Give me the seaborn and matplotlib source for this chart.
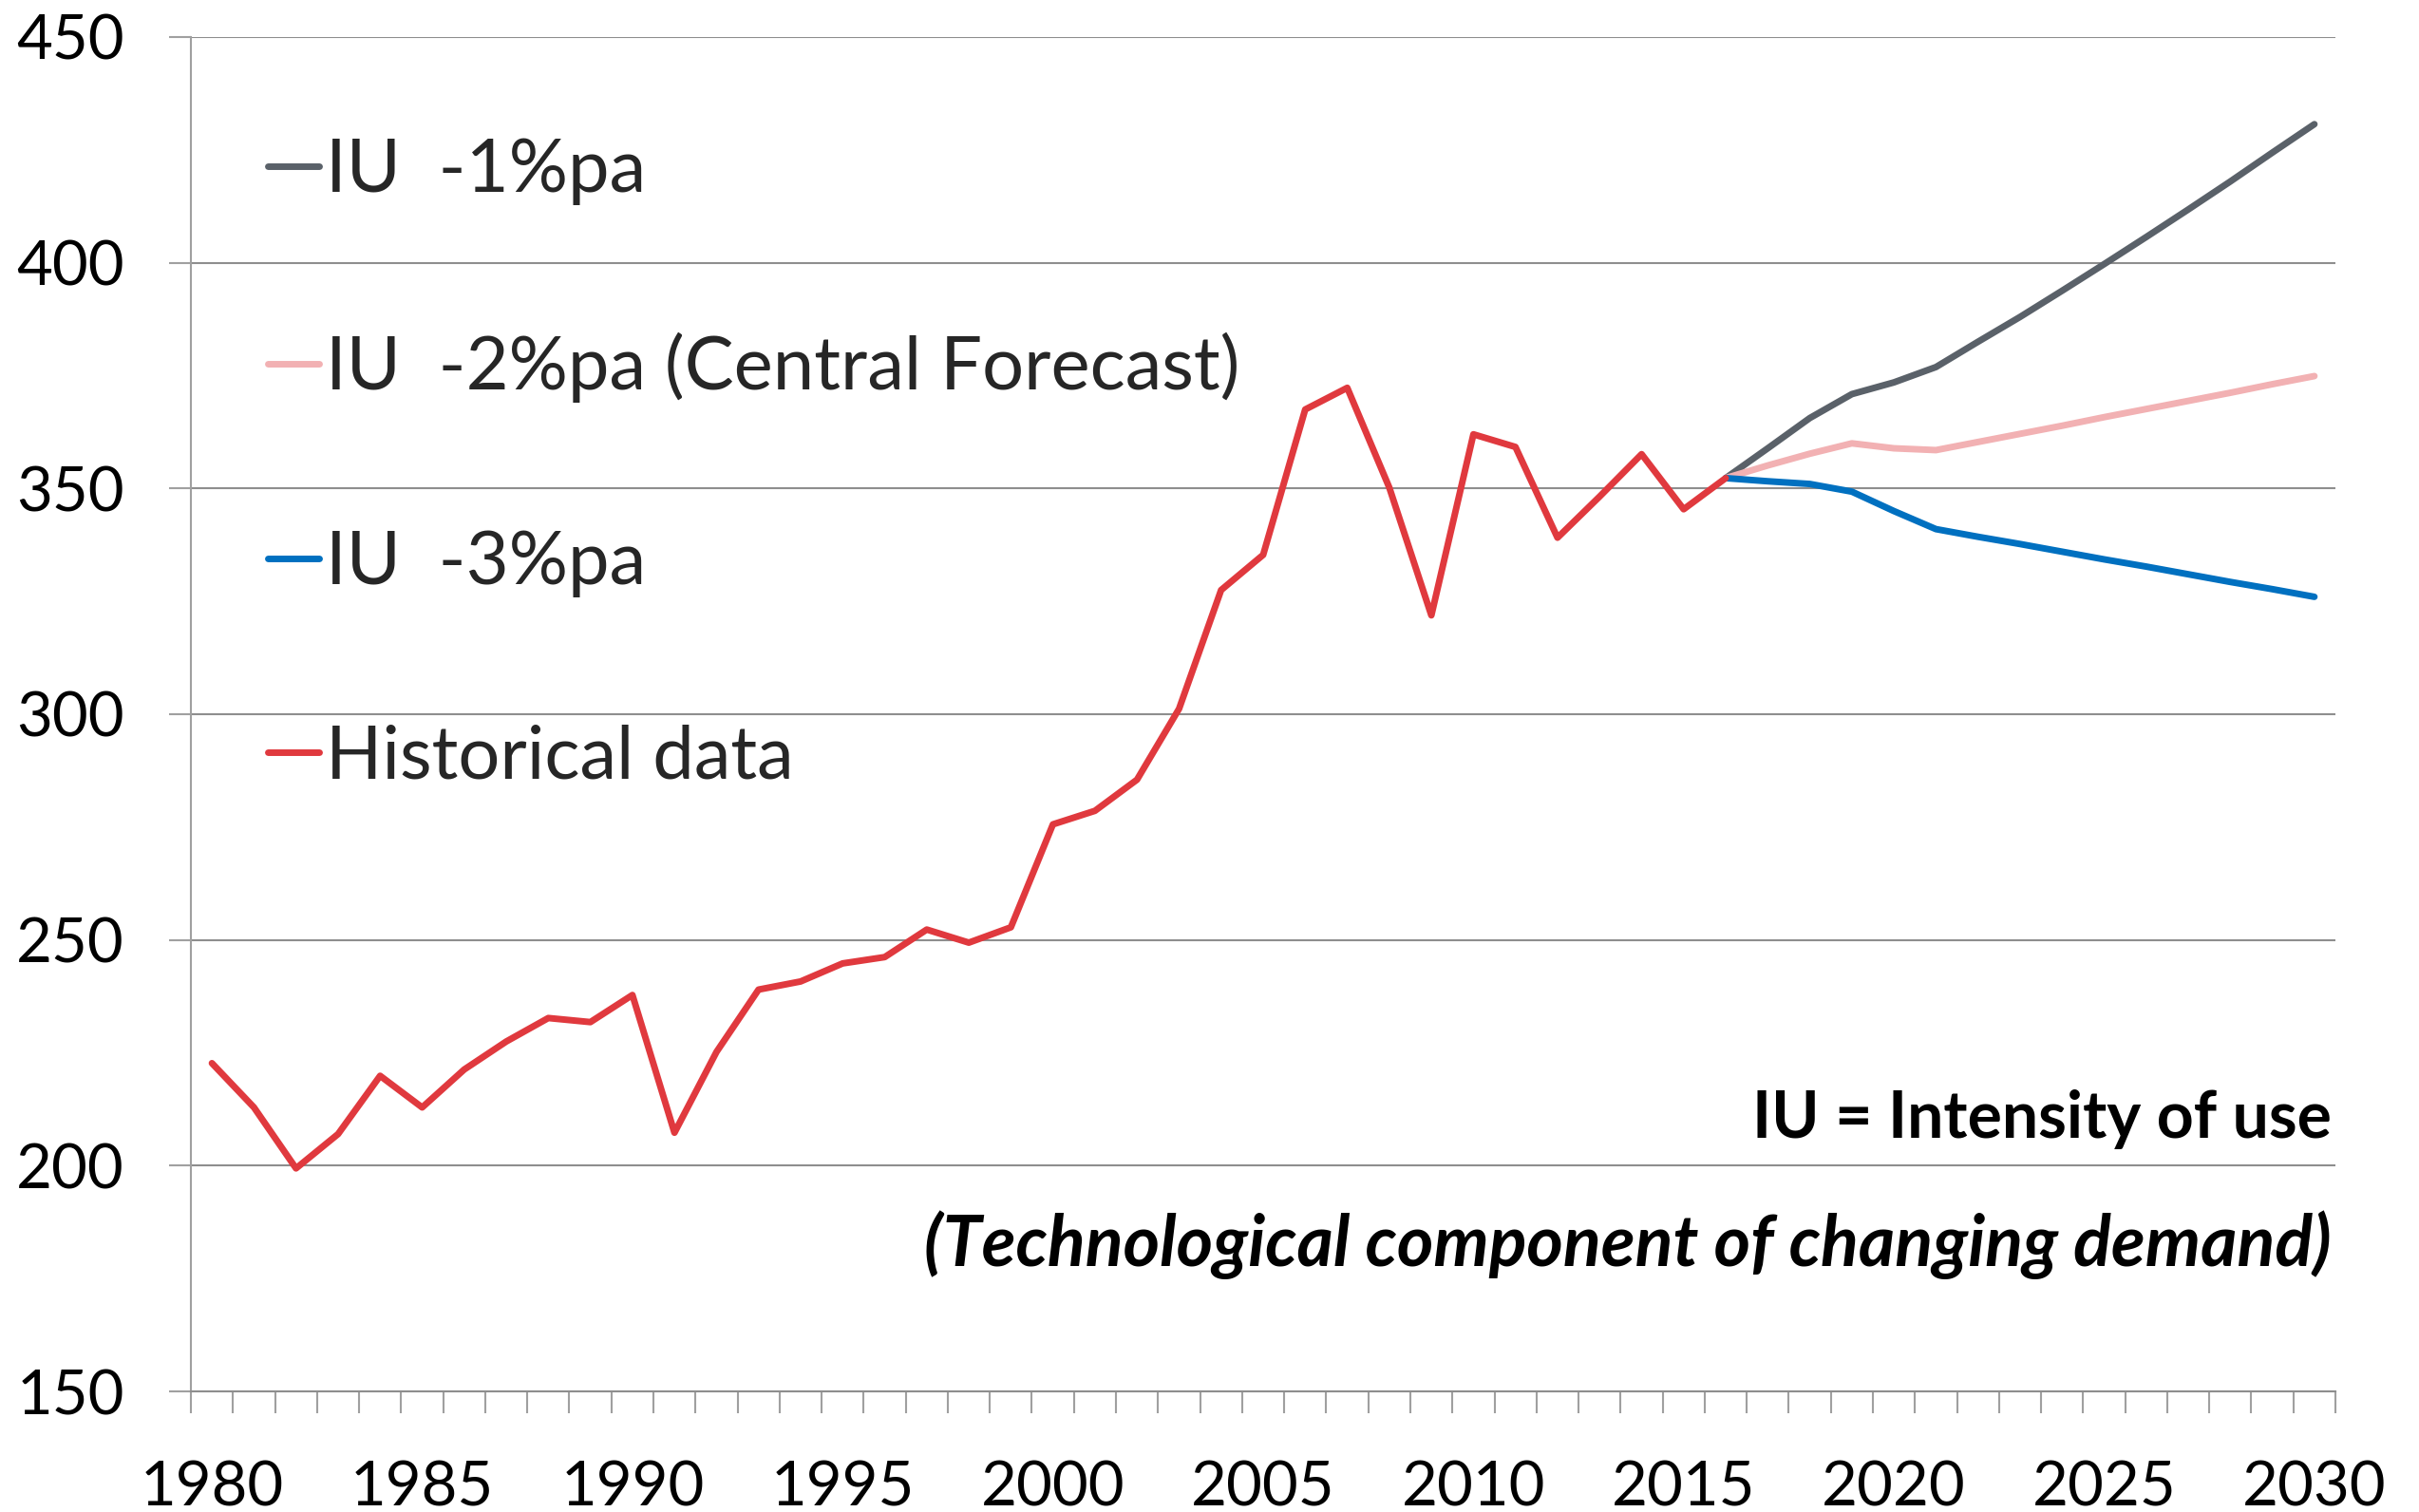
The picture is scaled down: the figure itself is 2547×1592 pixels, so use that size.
import numpy as np
import pandas as pd
import matplotlib
matplotlib.use("Agg")
import matplotlib.pyplot as plt
import seaborn as sns

# ---------------- data ----------------
hist_years = list(range(1980, 2017))
hist_values = [222.7, 212.9, 199.4, 207.0, 219.9, 212.9, 221.3, 227.5, 232.7, 231.8,
               237.8, 207.3, 225.2, 239.0, 240.8, 244.8, 246.2, 252.3, 249.4, 252.8,
               275.6, 278.6, 285.5, 301.2, 327.5, 335.3, 367.5, 372.3, 350.2, 321.9,
               362.0, 359.2, 339.1, 348.2, 357.6, 345.4, 352.3]

fc_years = list(range(2016, 2031))
iu1_values = [352.3, 358.9, 365.6, 370.9, 373.5, 376.9, 382.5, 388.0, 393.8, 399.7,
              405.7, 411.8, 418.0, 424.4, 430.7]
iu2_values = [352.3, 355.1, 357.7, 360.0, 358.9, 358.5, 360.3, 362.1, 363.9, 365.8,
              367.6, 369.4, 371.2, 373.1, 374.9]
iu3_values = [352.3, 351.6, 351.0, 349.3, 345.0, 341.0, 339.3, 337.7, 336.0, 334.3,
              332.7, 331.0, 329.3, 327.7, 326.0]

series_names = ["IU  -1%pa", "IU  -2%pa (Central Forecast)", "IU  -3%pa", "Historical data"]
series_colors = ["#5A6169", "#F2B1B3", "#0070C0", "#E0393E"]

x_tick_labels = [str(y) for y in range(1980, 2031, 5)]
y_ticks = [150, 200, 250, 300, 350, 400, 450]

note_1 = "IU = Intensity of use"
note_2 = "(Technological component of changing demand)"

# ---------------- build long table ----------------
frames = []
for name, yrs, vals in [(series_names[0], fc_years, iu1_values),
                        (series_names[1], fc_years, iu2_values),
                        (series_names[2], fc_years, iu3_values),
                        (series_names[3], hist_years, hist_values)]:
    frames.append(pd.DataFrame({"year": yrs, "value": vals, "series": name}))
df = pd.concat(frames, ignore_index=True)

# ---------------- style ----------------
sns.set_style("white")
plt.rcParams["font.family"] = ["Lato", "DejaVu Sans"]

W, H = 2547, 1592
fig = plt.figure(figsize=(W / 100, H / 100), dpi=100)
ax = fig.add_axes([201 / W, 1 - 1465 / H, 2258 / W, 1426 / H])

sns.lineplot(data=df, x="year", y="value", hue="series", hue_order=series_names,
             palette=dict(zip(series_names, series_colors)), linewidth=5.0,
             estimator=None, sort=False, ax=ax,
             solid_capstyle="round", solid_joinstyle="round")

grid_c = "#8E8E8E"
ax.set_xlim(1979.5, 2030.5)
ax.set_ylim(150, 450)
ax.set_xticks(list(range(1980, 2031, 5)))
ax.set_xticklabels(x_tick_labels)
ax.set_xticks(np.arange(1979.5, 2031, 1.0), minor=True)
ax.set_yticks(y_ticks)
ax.set_yticklabels([str(v) for v in y_ticks])
ax.tick_params(axis="x", which="major", length=0, pad=52, labelsize=47, labelcolor="black")
ax.tick_params(axis="x", which="minor", length=16.5, width=1.5, color="#A0A0A0",
               direction="out", bottom=True)
ax.tick_params(axis="y", which="major", length=16.5, width=1.5, color="#A0A0A0",
               direction="out", pad=34, labelsize=47, left=True, labelcolor="black")
ax.yaxis.grid(True, color=grid_c, linewidth=1.5)
ax.xaxis.grid(False)
ax.set_axisbelow(True)
for s in ["top", "right"]:
    ax.spines[s].set_visible(False)
ax.spines["left"].set_color("#A0A0A0")
ax.spines["left"].set_linewidth(1.5)
ax.spines["bottom"].set_color(grid_c)
ax.spines["bottom"].set_linewidth(1.5)
ax.set_xlabel("")
ax.set_ylabel("")

handles, labels = ax.get_legend_handles_labels()
leg = ax.legend(handles, labels, loc="upper left",
                bbox_to_anchor=(282 / W, 1 - 145 / H), bbox_transform=fig.transFigure,
                frameon=False, fontsize=56, handlelength=0.70, handletextpad=0.08,
                labelspacing=1.72, borderpad=0, borderaxespad=0)
for h in leg.legend_handles:
    h.set_linewidth(5.0)
    h.set_solid_capstyle("round")

fig.text(2455 / W, 1 - 1198 / H, note_1, ha="right", va="baseline",
         fontsize=49, fontweight="bold", color="black")
fig.text(2455 / W, 1 - 1333 / H, note_2, ha="right", va="baseline",
         fontsize=53, fontweight="bold", fontstyle="italic", color="black")

fig.savefig("out.png", dpi=100)
